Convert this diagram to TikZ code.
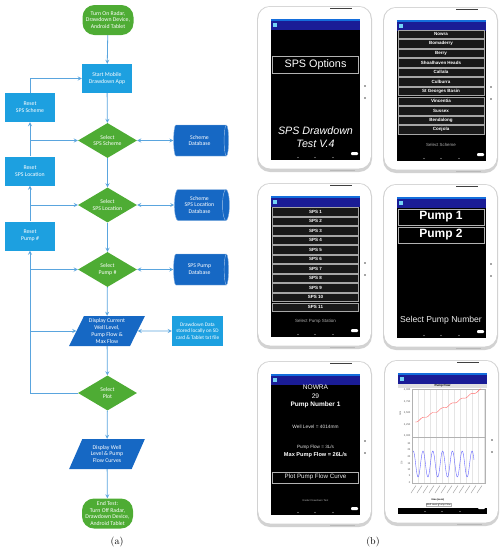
\documentclass[tikz,border=0pt]{standalone}
\usepackage{fontspec}
\newfontfamily\flowfont{Carlito}
\newfontfamily\tabfont{Liberation Sans}
\usetikzlibrary{shapes.geometric, positioning}
\definecolor{fgreen}{RGB}{78,172,52}
\definecolor{lblue}{RGB}{29,160,224}
\definecolor{dblue}{RGB}{22,104,196}
\definecolor{fline}{RGB}{90,165,222}
\definecolor{appbar}{RGB}{26,28,150}
\definecolor{statbar}{RGB}{20,110,220}

\begin{document}
\begin{tikzpicture}[x=1pt, y=-1pt,
        fc/.style={font=\flowfont\fontsize{5.8}{6.8}\selectfont, text=white, align=center, inner sep=1pt},
        term/.style={fc, fill=fgreen, rounded corners=12pt, minimum width=51pt, minimum height=30pt},
        proc/.style={fc, fill=lblue, minimum width=50pt, minimum height=29pt},
        decision/.style={fc, diamond, fill=fgreen, aspect=1.7, inner sep=-1.5pt, minimum width=59pt, minimum height=35pt},
        data/.style={fc, trapezium, trapezium left angle=65, trapezium right angle=115, trapezium stretches=true, fill=dblue, minimum width=76pt, minimum height=30pt},
        db/.style={fc, cylinder, shape border rotate=0, aspect=0.35, cylinder uses custom fill, cylinder body fill=dblue, cylinder end fill=dblue, draw=dblue!50!white, line width=0.4pt, minimum height=55pt, minimum width=31pt},
        arrow/.style={->, >=stealth, fline, line width=0.8pt},
        darrow/.style={<->, >=stealth, fline, line width=0.8pt},
        btn/.style={draw=gray!70, fill=black!90, line width=0.4pt, minimum width=86pt, minimum height=8.4pt, inner sep=0pt, text=white, font=\tabfont\bfseries\fontsize{4.5}{5}\selectfont},
        bigbtn/.style={draw=gray!60, fill=black, line width=0.6pt, minimum width=86pt, inner sep=0pt, text=white},
        scrtxt/.style={text=white, inner sep=0pt, align=center},
        tick/.style={font=\tabfont\fontsize{2.6}{3}\selectfont, text=gray!70!black, inner sep=0.4pt},
        subcap/.style={font=\fontsize{10}{12}\selectfont},
    ]
        \useasboundingbox (0,0) rectangle (502,550);

        % Flowchart (a)
        \node[term] (start) at (108,20) {Turn On Radar,\\Drawdown Device,\\Android Tablet};
        \node[proc] (app) at (107,78.5) {Start Mobile\\Drawdown App};
        \node[proc] (rsch) at (30,107.5) {Reset\\SPS Scheme};
        \node[decision] (dsch) at (107.5,140.5) {Select\\SPS Scheme};
        \node[db] (dbsch) at (199.5,140.5) {Scheme\\Database};
        \node[proc] (rloc) at (30,171) {Reset\\SPS Location};
        \node[decision] (dloc) at (107.5,205) {Select\\SPS Location};
        \node[db] (dbloc) at (199.5,205) {Scheme\\SPS Location\\Database};
        \node[proc] (rpump) at (30,236) {Reset\\Pump \#};
        \node[decision] (dpump) at (107.5,269.5) {Select\\Pump \#};
        \node[db] (dbpump) at (199.5,269.5) {SPS Pump\\Database};
        \node[data] (disp) at (107,331) {Display Current\\Well Level,\\Pump Flow \&\\Max Flow};
        \node[proc, minimum width=51pt, minimum height=30pt, font=\flowfont\fontsize{5.3}{6.4}\selectfont] (store) at (197.5,331) {Drawdown Data\\stored locally on SD\\card \& Tablet txt file};
        \node[decision] (dplot) at (107.5,393) {Select\\Plot};
        \node[data] (curves) at (107,454) {Display Well\\Level \& Pump\\Flow Curves};
        \node[term] (endt) at (107.5,513.5) {End Test:\\Turn Off Radar,\\Drawdown Device,\\Android Tablet};

        % main flow
        \draw[arrow] (start) -- (app);
        \draw[arrow] (app) -- (dsch);
        \draw[arrow] (dsch) -- (dloc);
        \draw[arrow] (dloc) -- (dpump);
        \draw[arrow] (dpump) -- (disp);
        \draw[arrow] (disp) -- (dplot);
        \draw[arrow] (dplot) -- (curves);
        \draw[arrow] (curves) -- (endt);

        % databases
        \draw[darrow] (dsch) -- (dbsch);
        \draw[darrow] (dloc) -- (dbloc);
        \draw[darrow] (dpump) -- (dbpump);
        \draw[darrow] (disp) -- (store);

        % reset loop on the left
        \draw[arrow] (dplot.west) -| (rpump.south);
        \draw[arrow] (rpump.north) -- (rloc.south);
        \draw[arrow] (rloc.north) -- (rsch.south);
        \draw[arrow] (rsch.north) |- (app.west);
        \draw[arrow] (rsch.south |- dsch.west) -- (dsch.west);
        \draw[arrow] (rloc.south |- dloc.west) -- (dloc.west);
        \draw[arrow] (rpump.south |- dpump.west) -- (dpump.west);
        \draw[arrow] (rpump.south |- disp.west) -- (disp.west);

        \node[subcap] (capa) at (117,542) {(a)};

        % Tablets (b)
        \foreach \tx/\ty in {257/6, 383/7, 257/183, 383/184, 257/361, 384/360}{
            \begin{scope}[shift={(\tx,\ty)}]
                \fill[gray!35, rounded corners=13pt] (0,0) rectangle (115,166);
                \fill[white, rounded corners=12pt] (1.2,0.8) rectangle (113.8,162.5);
                \draw[black!75, line width=1.2pt] (73,2.6) -- (95,2.6);
                \draw[gray!55, line width=1pt] (73,164.6) -- (98,164.6);
                \fill[black] (14,13) rectangle (103,154);
                \fill[statbar] (14,13) rectangle (103,15);
                \fill[appbar] (14,15) rectangle (103,24);
                \fill[cyan!55] (16,17) rectangle (20,21);
                \fill[black!70] (108,80) circle (0.9pt);
                \fill[black!70] (108,92) circle (0.9pt);
                \foreach \nx in {41,58,76}
                    \fill[gray!60] (\nx,151.5) circle (0.6pt);
                \fill[white, rounded corners=1pt] (94,146) rectangle (101,149);
            \end{scope}
        }

        % Tablet 1
        \node[bigbtn, minimum height=17pt, font=\tabfont\fontsize{10.8}{12}\selectfont] (opts) at (315.5,64.5) {SPS Options};
        \node[scrtxt, font=\tabfont\itshape\fontsize{10.7}{13}\selectfont] (tname) at (315.5,137.5) {SPS Drawdown\\Test V.4};

        % Tablet 2
        \foreach \sname [count=\i] in {Nowra, Bomaderry, Berry, Shoalhaven Heads, Callala, Culburra, St Georges Basin, Vincentia, Sussex, Bendalong, Conjola}
            \node[btn] (sch\i) at (441,{34+9.57*(\i-1)}) {\sname};
        \node[scrtxt, text=gray!65, font=\tabfont\fontsize{4.4}{5}\selectfont] (selsch) at (441,145) {Select Scheme};

        % Tablet 3
        \foreach \i in {1,...,11}
            \node[btn] (sps\i) at (315.5,{211.7+9.52*(\i-1)}) {SPS \i};
        \node[scrtxt, text=gray!65, font=\tabfont\fontsize{4.5}{5}\selectfont] (selsps) at (315.5,321.7) {Select Pump Station};

        % Tablet 4
        \node[bigbtn, minimum height=16pt, font=\tabfont\bfseries\fontsize{12}{13}\selectfont] (pump1) at (441,217) {Pump 1};
        \node[bigbtn, minimum height=16pt, font=\tabfont\bfseries\fontsize{12}{13}\selectfont] (pump2) at (441,235) {Pump 2};
        \node[scrtxt, text=gray!15, font=\tabfont\fontsize{8.6}{10}\selectfont] (selpump) at (441,320.7) {Select Pump Number};

        % Tablet 5
        \node[scrtxt, font=\tabfont\fontsize{6.6}{7}\selectfont] (town) at (315.5,387.7) {NOWRA};
        \node[scrtxt, font=\tabfont\fontsize{6.6}{7}\selectfont] (spsno) at (315.5,396) {29};
        \node[scrtxt, font=\tabfont\bfseries\fontsize{6.5}{7}\selectfont] (pumpno) at (315.5,405.3) {Pump Number 1};
        \node[scrtxt, text=gray!20, font=\tabfont\fontsize{4.8}{5}\selectfont] (well) at (315.5,426.7) {Well Level = 4014mm};
        \node[scrtxt, text=gray!20, font=\tabfont\fontsize{4.6}{5}\selectfont] (flow) at (315.5,447.3) {Pump Flow = 3L/s};
        \node[scrtxt, font=\tabfont\bfseries\fontsize{5.6}{6}\selectfont] (maxflow) at (315.5,455) {Max Pump Flow = 26L/s};
        \node[bigbtn, minimum height=11pt, text=gray!15, font=\tabfont\fontsize{6.2}{7}\selectfont] (plotbtn) at (315.5,477.3) {Plot Pump Flow Curve};
        \node[scrtxt, text=gray!60, font=\tabfont\fontsize{2.6}{3}\selectfont] (radar) at (315.5,501) {Radar Drawdown Test};

        % Tablet 6 - plot
        \fill[white] (398,384) rectangle (487,508);
        \fill[gray!25] (398,384) rectangle (487,388);
        \node[tick, text=black, font=\tabfont\bfseries\fontsize{3}{3}\selectfont] (ptitle) at (442.5,386) {Pump Flow};
        \foreach \gx in {418,424,...,484}
            \draw[gray!20, line width=0.2pt] (\gx,389) -- (\gx,483);
        \draw[gray!60, line width=0.3pt] (412,389) rectangle (485,483);
        \draw[gray!60, line width=0.3pt] (412,437) -- (485,437);
        \foreach \v/\yy [count=\i] in {{4,000}/390, {3,750}/401.5, {3,500}/413, {3,250}/424.5, {3,000}/436}
            \node[tick, anchor=east] (yu\i) at (411,\yy) {\v};
        \foreach \v/\yy [count=\i] in {30/443.3, 25/450, 20/456.7, 15/463.3, 10/470, 5/476, 0/482.3}
            \node[tick, anchor=east] (yl\i) at (411,\yy) {\v};
        \node[tick, rotate=90] (umm) at (400.5,413) {mm};
        \node[tick, rotate=90] (uls) at (401.5,463) {L/s};
        \draw[red!60, line width=0.4pt] plot[domain=415:481, samples=45] (\x,{422-0.49*(\x-415)+0.9*sin(37*(\x-415))});
        \draw[blue!60, line width=0.4pt] plot[domain=413:474, samples=150] (\x,{464-13*cos(36.7*(\x-423))});
        \foreach \gx in {416,422,...,482}
            \draw[gray!70, line width=0.5pt] (\gx,485.5) -- ({\gx-5},493);
        \node[tick, text=black, font=\tabfont\bfseries\fontsize{2.4}{3}\selectfont] (xlab) at (438,500) {time (secs)};
        \node[tick, draw=gray!60, fill=white, text=black, font=\tabfont\fontsize{2.4}{3}\selectfont] (lwell) at (432,504.5) {Well Level};
        \node[tick, draw=gray!60, fill=white, text=black, font=\tabfont\fontsize{2.4}{3}\selectfont, right=0pt of lwell] (lpump) {Pump Flow};

        \node[subcap] (capb) at (373,541.7) {(b)};
    \end{tikzpicture}
\end{document}
